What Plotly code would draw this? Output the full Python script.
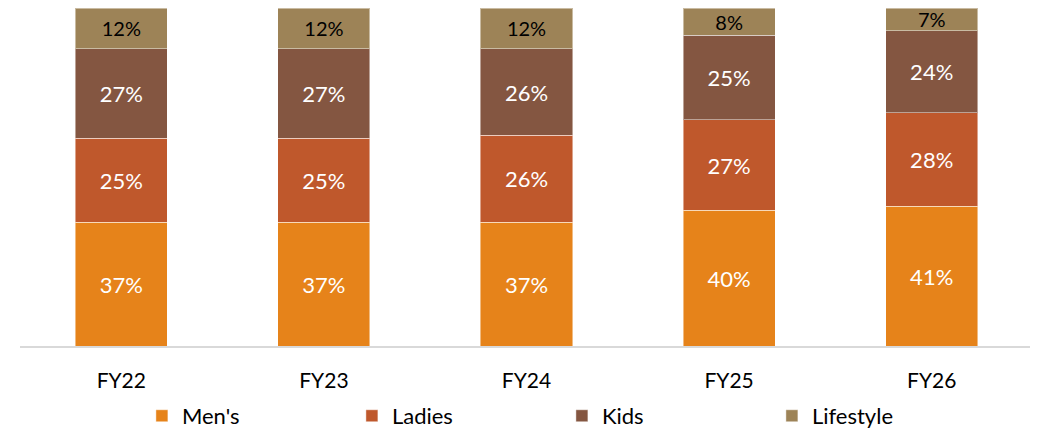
import plotly.graph_objects as go

categories = ["FY22", "FY23", "FY24", "FY25", "FY26"]
mens = [36.6, 36.6, 36.6, 40.1, 41.3]
ladies = [24.8, 24.8, 25.7, 26.8, 27.7]
kids = [26.5, 26.5, 25.6, 25.1, 24.2]
lifestyle = [12.1, 12.1, 12.1, 8.0, 6.8]

series = [
    ("Men's", mens, "#E6831A", "white", 22),
    ("Ladies", ladies, "#BF582C", "white", 22),
    ("Kids", kids, "#845641", "white", 22),
    ("Lifestyle", lifestyle, "#9D8357", "black", 20),
]

FONT = "Lato"
fig = go.Figure()
for name, vals, color, tcolor, fsize in series:
    fig.add_trace(go.Bar(
        x=categories, y=vals, name=name,
        marker=dict(color=color, line=dict(color="rgba(255,255,255,0.45)", width=1)),
        width=0.455,
        text=vals, texttemplate="%{y:.0f}%", textposition="inside",
        insidetextanchor="middle", constraintext="none",
        textfont=dict(family=FONT, size=fsize, color=tcolor),
        hoverinfo="skip",
    ))

fig.update_layout(
    barmode="stack",
    width=1038, height=434,
    margin=dict(l=12, r=13, t=0, b=96, autoexpand=False),
    paper_bgcolor="white", plot_bgcolor="white",
    font=dict(family=FONT, size=22, color="black"),
    xaxis=dict(showline=True, linecolor="#D9D9D9", linewidth=2, ticks="",
               tickfont=dict(family=FONT, size=21, color="black"),
               ticklabelstandoff=15,
               showgrid=False, range=[-0.5, 4.5]),
    yaxis=dict(range=[0, 100], visible=False, showgrid=False),
    legend=dict(orientation="h", xref="container", yref="container",
                x=0.129, xanchor="left", y=0.06, yanchor="middle",
                font=dict(family=FONT, size=22, color="black"),
                entrywidth=165, itemwidth=30, traceorder="normal"),
    showlegend=True,
)
fig.write_html("out.html")
